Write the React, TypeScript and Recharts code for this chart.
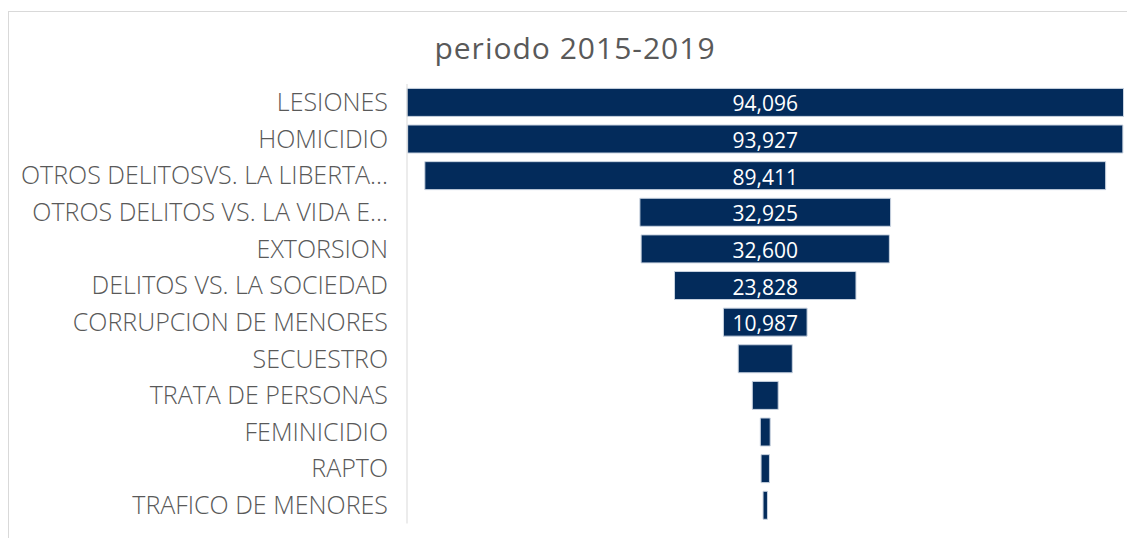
import React from 'react';
import { BarChart, Bar, XAxis, YAxis, LabelList } from 'recharts';

const categories = [
  'LESIONES',
  'HOMICIDIO',
  'OTROS DELITOSVS. LA LIBERTA...',
  'OTROS DELITOS VS. LA VIDA E...',
  'EXTORSION',
  'DELITOS VS. LA SOCIEDAD',
  'CORRUPCION DE MENORES',
  'SECUESTRO',
  'TRATA DE PERSONAS',
  'FEMINICIDIO',
  'RAPTO',
  'TRAFICO DE MENORES',
];

const casos = [94096, 93927, 89411, 32925, 32600, 23828, 10987, 7100, 3400, 1300, 1100, 580];

const maxCasos = Math.max(...casos);

// spacer keeps each bar centred, like Excel's funnel
const data = categories.map((name, i) => ({
  name,
  spacer: (maxCasos - casos[i]) / 2,
  value: casos[i],
}));

const BAR_COLOR = '#032b5b';
const TEXT_COLOR = '#595959';
const FONT = '"Open Sans", "Liberation Sans", sans-serif';

const ValueLabel = (props: any) => {
  const { x, y, width, height, value } = props;
  if (width < 70) return null;
  return (
    <text
      x={x + width / 2}
      y={y + height / 2}
      dy={1}
      fill="#ffffff"
      fontSize={21}
      fontFamily={FONT}
      textAnchor="middle"
      dominantBaseline="central"
    >
      {Number(value).toLocaleString('en-US')}
    </text>
  );
};

const App: React.FC = () => {
  return (
    <div style={{ position: 'absolute', left: 0, top: 0, width: 1127, height: 538, overflow: 'hidden', background: '#fff' }}>
      <div
        style={{
          position: 'absolute',
          left: 8,
          top: 11,
          width: 1140,
          height: 560,
          border: '1px solid #d9d9d9',
        }}
      />
      <div
        style={{
          position: 'absolute',
          left: 0,
          top: 27,
          width: 1150,
          textAlign: 'center',
          fontFamily: FONT,
          fontSize: 30,
          letterSpacing: 1,
          lineHeight: '42px',
          color: TEXT_COLOR,
        }}
      >
        periodo 2015-2019
      </div>
      <div style={{ position: 'absolute', left: 0, top: 0 }}>
        <BarChart
          width={1127}
          height={538}
          data={data}
          layout="vertical"
          margin={{ top: 84, right: 3.5, bottom: 14.5, left: 0 }}
          barCategoryGap="12%"
        >
          <XAxis type="number" domain={[0, maxCasos]} hide />
          <YAxis
            type="category"
            dataKey="name"
            width={407}
            tickLine={false}
            axisLine={{ stroke: '#d9d9d9' }}
            tickMargin={13}
            interval={0}
            tick={{ fill: TEXT_COLOR, fontSize: 25, fontWeight: 300, fontFamily: FONT }}
          />
          <Bar dataKey="spacer" stackId="f" fill="transparent" isAnimationActive={false} />
          <Bar
            dataKey="value"
            stackId="f"
            fill={BAR_COLOR}
            stroke="#c9d3e0"
            strokeWidth={1}
            isAnimationActive={false}
          >
            <LabelList dataKey="value" content={ValueLabel} />
          </Bar>
        </BarChart>
      </div>
    </div>
  );
};

export default App;
